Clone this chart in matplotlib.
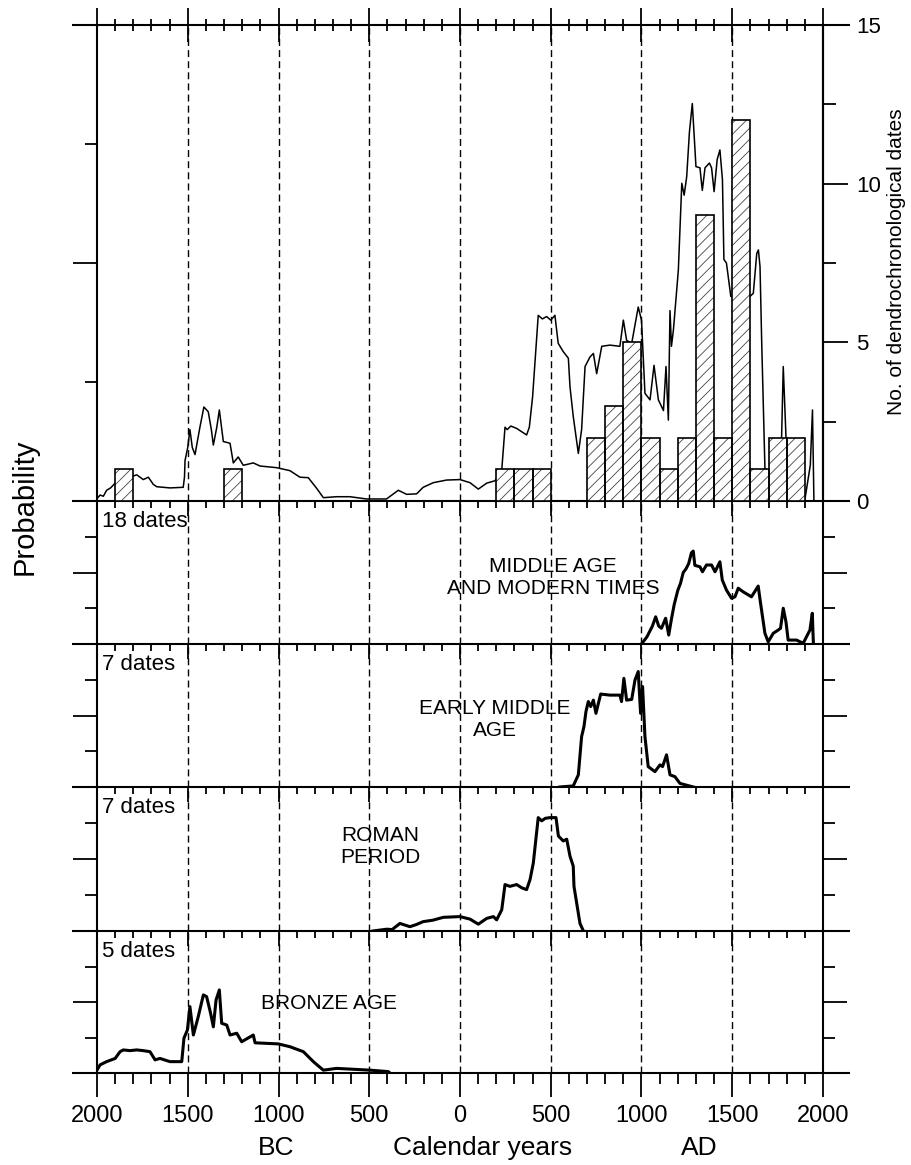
import matplotlib.pyplot as plt
import matplotlib.transforms as mtransforms
from matplotlib.ticker import MultipleLocator, FixedLocator

plt.rcParams['font.family'] = ['Liberation Sans', 'DejaVu Sans']
plt.rcParams['hatch.linewidth'] = 0.6

# 1. Data
# summed probability (top panel, arbitrary units 0..4)
sum_years = [-2000, -1983, -1965, -1947, -1925, -1900, -1836, -1781, -1745, -1717, -1690, -1671,
             -1598, -1525, -1518, -1515, -1500, -1488, -1475, -1460, -1433, -1411,
             -1387, -1370, -1359, -1340, -1326, -1304, -1267, -1249, -1222, -1194,
             -1139, -1102, -1010, -937, -882, -836, -790, -753, -680, -606,
             -515, -405, -340, -294, -239, -203, -147, -74, 0, 55,
             101, 147, 193, 230, 248, 260, 280, 312, 367, 382,
             400, 431, 454, 477, 500, 523, 541, 569, 597, 606,
             624, 652, 670, 689, 716, 735, 753, 781, 826, 881,
             900, 918, 946, 982, 1000, 1019, 1047, 1069, 1093, 1121,
             1135, 1148, 1157, 1165, 1176, 1190, 1203, 1222, 1235, 1249,
             1264, 1280, 1300, 1322, 1335, 1350, 1374, 1386, 1400, 1417,
             1432, 1446, 1454, 1468, 1492, 1550, 1598, 1616, 1635, 1644,
             1653, 1662, 1680, 1700, 1720, 1750, 1772, 1781, 1796, 1810,
             1850, 1890, 1900, 1930, 1942, 1950]
sum_prob = [0.02, 0.05, 0.04, 0.09, 0.11, 0.15, 0.19, 0.22, 0.18, 0.20, 0.14, 0.12,
            0.11, 0.115, 0.20, 0.34, 0.45, 0.60, 0.45, 0.39, 0.62, 0.79,
            0.75, 0.60, 0.47, 0.62, 0.765, 0.50, 0.485, 0.32, 0.37, 0.30,
            0.32, 0.294, 0.28, 0.255, 0.20, 0.196, 0.107, 0.028, 0.036, 0.036,
            0.017, 0.017, 0.09, 0.056, 0.06, 0.115, 0.154, 0.176, 0.18, 0.154,
            0.10, 0.15, 0.17, 0.26, 0.62, 0.60, 0.63, 0.61, 0.555, 0.62,
            0.876, 1.56, 1.53, 1.55, 1.52, 1.56, 1.325, 1.255, 1.20, 0.96,
            0.71, 0.40, 0.60, 1.13, 1.21, 1.24, 1.07, 1.30, 1.31, 1.30,
            1.52, 1.35, 1.325, 1.63, 1.52, 0.905, 0.85, 1.14, 0.85, 0.76,
            1.13, 0.68, 1.60, 1.30, 1.44, 1.70, 1.94, 2.67, 2.57, 2.725,
            3.10, 3.34, 2.81, 2.80, 2.61, 2.80, 2.84, 2.80, 2.60, 2.87,
            2.95, 2.70, 2.03, 2.00, 1.72, 1.70, 1.72, 1.745, 2.08, 2.11,
            1.97, 1.35, 0.28, 0.12, 0.25, 0.40, 0.54, 1.13, 0.54, 0.12,
            0.10, 0.02, 0.01, 0.30, 0.765, 0.0]

# dendrochronological dates per century (left edge of bin, count)
dendro_bins = [-1900, -1300, 200, 300, 400, 700, 800, 900, 1000, 1100,
               1200, 1300, 1400, 1500, 1600, 1700, 1800]
dendro_counts = [1, 1, 1, 1, 1, 2, 3, 5, 2, 1,
                 2, 9, 2, 12, 1, 2, 2]

# middle age and modern times, 18 dates
mid_years = [1000, 1030, 1060, 1078, 1095, 1110, 1133, 1150, 1165, 1180,
             1200, 1215, 1230, 1245, 1260, 1275, 1285, 1294, 1322, 1336,
             1358, 1386, 1405, 1432, 1445, 1468, 1496, 1515, 1533, 1560,
             1606, 1643, 1656, 1680, 1698, 1726, 1753, 1766, 1781, 1796,
             1808, 1854, 1891, 1928, 1941, 1947]
mid_prob = [0.0, 0.2, 0.5, 0.76, 0.5, 0.44, 0.72, 0.25, 0.7, 1.1,
            1.5, 1.7, 2.0, 2.1, 2.25, 2.55, 2.6, 2.2, 2.16, 2.02,
            2.21, 2.21, 2.02, 2.30, 1.79, 1.51, 1.28, 1.32, 1.56, 1.46,
            1.32, 1.62, 1.14, 0.30, 0.06, 0.30, 0.39, 0.44, 1.00, 0.62,
            0.11, 0.11, 0.02, 0.39, 0.86, 0.02]

# early middle age, 7 dates
early_years = [550, 624, 652, 670, 683, 694, 707, 720, 735, 749,
               775, 826, 881, 890, 903, 918, 946, 964, 982, 995,
               1006, 1019, 1037, 1074, 1102, 1116, 1138, 1157, 1184, 1212,
               1286]
early_prob = [0.0, 0.03, 0.34, 1.41, 1.69, 2.11, 2.39, 2.25, 2.43, 2.06,
              2.60, 2.57, 2.57, 2.39, 3.04, 2.43, 2.45, 2.99, 3.23, 2.06,
              2.81, 1.41, 0.57, 0.43, 0.62, 0.57, 0.90, 0.34, 0.29, 0.10,
              0.0]

# roman period, 7 dates
roman_years = [-480, -404, -374, -331, -276, -240, -203, -150, -92, 0,
               55, 101, 147, 184, 202, 230, 248, 275, 312, 340,
               367, 386, 404, 431, 450, 470, 496, 529, 542, 569,
               588, 606, 624, 628, 643, 661, 680]
roman_prob = [0.0, 0.05, 0.04, 0.21, 0.12, 0.18, 0.26, 0.30, 0.38, 0.40,
              0.33, 0.19, 0.35, 0.40, 0.31, 0.59, 1.29, 1.24, 1.29, 1.20,
              1.15, 1.43, 1.89, 3.15, 3.06, 3.13, 3.15, 3.15, 2.64, 2.50,
              2.55, 2.08, 1.80, 1.24, 0.77, 0.21, 0.0]

# bronze age, 5 dates
bronze_years = [-2000, -1983, -1947, -1900, -1873, -1855, -1818, -1781, -1745, -1708,
                -1680, -1653, -1598, -1533, -1521, -1502, -1488, -1469, -1442, -1414,
                -1396, -1374, -1359, -1344, -1326, -1313, -1285, -1267, -1230, -1203,
                -1139, -1129, -1001, -937, -863, -808, -753, -680, -606, -496,
                -395, -386]
bronze_prob = [0.08, 0.23, 0.32, 0.41, 0.60, 0.65, 0.63, 0.65, 0.63, 0.60,
               0.37, 0.41, 0.32, 0.32, 0.98, 1.21, 1.87, 1.07, 1.59, 2.20,
               2.15, 1.68, 1.30, 2.06, 2.34, 1.40, 1.35, 1.07, 1.12, 0.88,
               1.07, 0.85, 0.82, 0.74, 0.60, 0.32, 0.08, 0.13, 0.11, 0.08,
               0.04, 0.0]

panel_years = [mid_years, early_years, roman_years, bronze_years]
panel_probs = [mid_prob, early_prob, roman_prob, bronze_prob]
panel_counts = ['18 dates', '7 dates', '7 dates', '5 dates']
period_names = ['MIDDLE AGE\nAND MODERN TIMES', 'EARLY MIDDLE\nAGE',
                'ROMAN\nPERIOD', 'BRONZE AGE']

year_ticks = [-2000, -1500, -1000, -500, 0, 500, 1000, 1500, 2000]
year_labels = ['2000', '1500', '1000', '500', '0', '500', '1000', '1500', '2000']
dashed_years = [-1500, -1000, -500, 0, 500, 1000, 1500]

# 2. Layout (pixel boxes of the five stacked panels)
W, H = 912, 1165
fig = plt.figure(figsize=(W / 100, H / 100), dpi=100, facecolor='white')
x0, x1 = 97, 823
boxes = [(25, 501), (501, 644), (644, 787), (787, 931), (931, 1073)]
LW = 1.5


def make_axes(top, bot):
    ax = fig.add_axes([x0 / W, 1 - bot / H, (x1 - x0) / W, (bot - top) / H])
    ax.patch.set_visible(False)   # let ticks of the panel above show through
    return ax


def hline(ax, y):
    # frame line that sticks out past both side axes
    ax.plot([-0.035, 1.037], [y, y], transform=ax.transAxes, color='k',
            lw=LW, clip_on=False, solid_capstyle='butt', zorder=5)


axes = []
for i, (top, bot) in enumerate(boxes):
    ax = make_axes(top, bot)
    ax.set_xlim(-2000, 2000)
    ax.set_ylim(0, 4)
    for side in ['top', 'bottom']:
        ax.spines[side].set_visible(False)
    for side in ['left', 'right']:
        ax.spines[side].set_linewidth(LW)
    hline(ax, 0)
    for yr in dashed_years:
        ax.axvline(yr, color='k', lw=1.0, ls=(0, (5, 3)), zorder=1)

    ax.xaxis.set_major_locator(FixedLocator(year_ticks))
    ax.xaxis.set_minor_locator(MultipleLocator(100))
    last = (i == len(boxes) - 1)
    ax.tick_params(axis='x', which='major', direction='out', length=17 if last else 11,
                   width=1.3, top=False, labelbottom=last, labelsize=17, pad=6)
    ax.tick_params(axis='x', which='minor', direction='out', length=8 if last else 5,
                   width=1.3, top=False)

    ax.yaxis.set_major_locator(FixedLocator([2]))
    ax.yaxis.set_minor_locator(FixedLocator([1, 3]))
    ax.tick_params(axis='y', which='major', direction='out', length=17, width=1.3,
                   left=True, right=(i > 0), labelleft=False, labelright=False)
    ax.tick_params(axis='y', which='minor', direction='out', length=8.5, width=1.3,
                   left=True, right=(i > 0))
    axes.append(ax)

axes[-1].set_xticklabels(year_labels)

# 3. Top panel: summed probability + histogram of dendro dates
ax0 = axes[0]
hline(ax0, 1)
ax0.plot(sum_years, sum_prob, color='k', lw=1.1, zorder=2)

# top edge ticks cross the frame line
axt = make_axes(*boxes[0])
axt.set_frame_on(False)
axt.set_xlim(-2000, 2000)
axt.set_yticks([])
axt.xaxis.set_major_locator(FixedLocator(year_ticks))
axt.xaxis.set_minor_locator(MultipleLocator(100))
axt.tick_params(axis='x', which='major', direction='inout', length=25, width=1.3,
                top=True, bottom=False, labelbottom=False, labeltop=False)
axt.tick_params(axis='x', which='minor', direction='inout', length=8.5, width=1.3,
                top=True, bottom=False)

ax2 = ax0.twinx()
ax2.set_ylim(0, 15)
for side in ['top', 'bottom', 'left']:
    ax2.spines[side].set_visible(False)
ax2.spines['right'].set_linewidth(LW)
ax2.bar(dendro_bins, dendro_counts, width=100, align='edge', color='white',
        edgecolor='#444444', hatch='///', linewidth=0, zorder=2)
ax2.bar(dendro_bins, dendro_counts, width=100, align='edge', fill=False,
        edgecolor='k', linewidth=1.2, zorder=3)
ax2.yaxis.set_major_locator(FixedLocator([0, 5, 10, 15]))
ax2.yaxis.set_minor_locator(FixedLocator([2.5, 7.5, 12.5]))
ax2.tick_params(axis='y', which='major', direction='out', length=18, width=1.3,
                labelsize=16, pad=6)
ax2.tick_params(axis='y', which='minor', direction='out', length=9, width=1.3)

# 4. Period panels
for ax, yrs, prob, cnt in zip(axes[1:], panel_years, panel_probs, panel_counts):
    ax.plot(yrs, prob, color='k', lw=2.2, zorder=3)
    ax.text(-1975, 3.72, cnt, fontsize=16, ha='left', va='top')

axes[1].text(512, 1.86, period_names[0], fontsize=15, ha='center', va='center',
             multialignment='center')
axes[2].text(193, 1.89, period_names[1], fontsize=15, ha='center', va='center',
             multialignment='center')
axes[3].text(-441, 2.34, period_names[2], fontsize=15, ha='center', va='center',
             multialignment='center')
axes[4].text(-722, 1.97, period_names[3], fontsize=15, ha='center', va='center')

# 5. Axis titles
ax5 = axes[-1]
trans = mtransforms.blended_transform_factory(ax5.transData, ax5.transAxes)
ax5.text(-1014, -0.53, 'BC', transform=trans, fontsize=19, ha='center', va='center')
ax5.text(127, -0.53, 'Calendar years', transform=trans, fontsize=19,
         ha='center', va='center')
ax5.text(1317, -0.53, 'AD', transform=trans, fontsize=19, ha='center', va='center')

fig.text(25 / W, 1 - 507 / H, 'Probability', rotation=90, fontsize=21,
         ha='center', va='center')
fig.text(897 / W, 1 - 262 / H, 'No. of dendrochronological dates', rotation=90,
         fontsize=15, ha='center', va='center')

fig.savefig('out.png', dpi=100, facecolor='white')
